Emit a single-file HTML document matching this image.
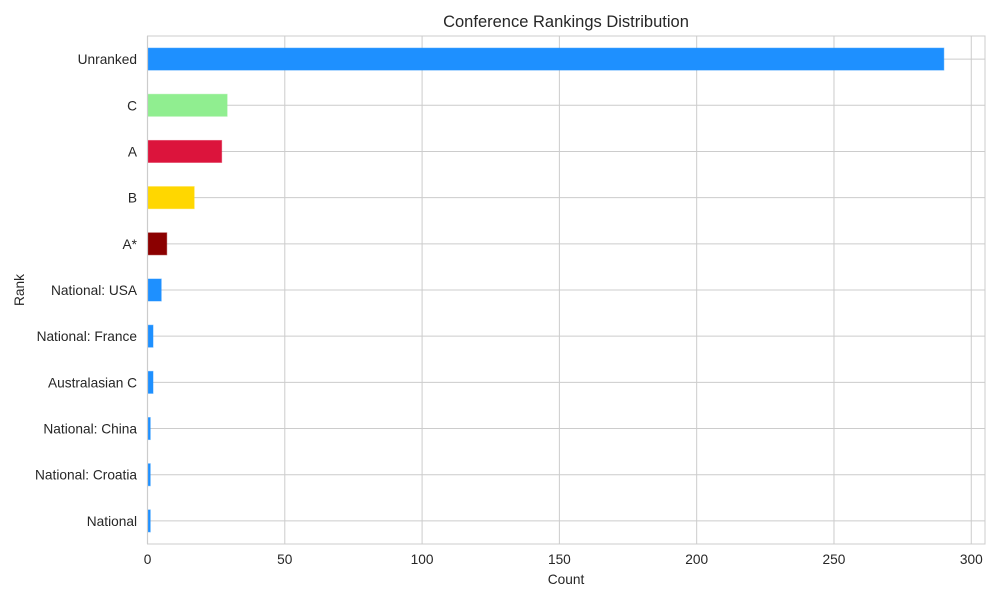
<!DOCTYPE html>
<html><head><meta charset="utf-8"><style>
body{margin:0;background:#fff;width:1000px;height:600px;overflow:hidden}
text{font-family:"Liberation Sans","DejaVu Sans",sans-serif;fill:#262626}
</style></head><body>
<svg id="chart" width="1000" height="600" xmlns="http://www.w3.org/2000/svg"></svg>
<script>
const categories=["Unranked","C","A","B","A*","National: USA","National: France","Australasian C","National: China","National: Croatia","National"];
const counts=[290,29,27,17,7,5,2,2,1,1,1];
const colors=["#1e90ff","#90ee90","#dc143c","#ffd700","#8b0000","#1e90ff","#1e90ff","#1e90ff","#1e90ff","#1e90ff","#1e90ff"];
const xTicks=[0,50,100,150,200,250,300];
const svg=document.getElementById('chart');
const NS='http://www.w3.org/2000/svg';
const L=147.5,R=985,T=36,B=544,xmax=305;
const x=v=>L+v/xmax*(R-L);
const step=(B-T)/categories.length;
const y=i=>T+step*(i+0.5);
function mk(tag,a,txt){const e=document.createElementNS(NS,tag);for(const k in a)e.setAttribute(k,a[k]);if(txt!==undefined)e.textContent=txt;svg.appendChild(e);return e;}
let r=mk('rect',{x:L,y:T,width:R-L,height:B-T,fill:'#fff',stroke:'#cccccc','stroke-width':1});


xTicks.forEach(t=>{
 let g=mk('line',{x1:x(t),x2:x(t),y1:T,y2:B,stroke:'#cccccc','stroke-width':1});
 
 
 let l=mk('text',{x:x(t),y:B+20,'text-anchor':'middle','font-size':13.7},String(t));
 
 
});
categories.forEach((c,i)=>{
 let g=mk('line',{x1:L,x2:R,y1:y(i),y2:y(i),stroke:'#cccccc','stroke-width':1});
 
 
 let l=mk('text',{x:L-10.5,y:y(i)+5,'text-anchor':'end','font-size':13.7},c);
 
 
});
categories.forEach((c,i)=>{
 let b=mk('rect',{x:L,y:y(i)-11,width:x(counts[i])-L,height:22,fill:colors[i],stroke:colors[i],'stroke-opacity':0.5});
 
 
});
let ax=mk('line',{x1:L,x2:L,y1:T,y2:B,stroke:'#cccccc','stroke-width':1.2});


let t=mk('text',{x:566,y:27,'text-anchor':'middle','font-size':16.5},'Conference Rankings Distribution');


let xt=mk('text',{x:566,y:584,'text-anchor':'middle','font-size':13.7},'Count');


let yt=mk('text',{x:24,y:290,'text-anchor':'middle','font-size':13.7,transform:'rotate(-90 24 290)'},'Rank');


</script>
</body></html>
